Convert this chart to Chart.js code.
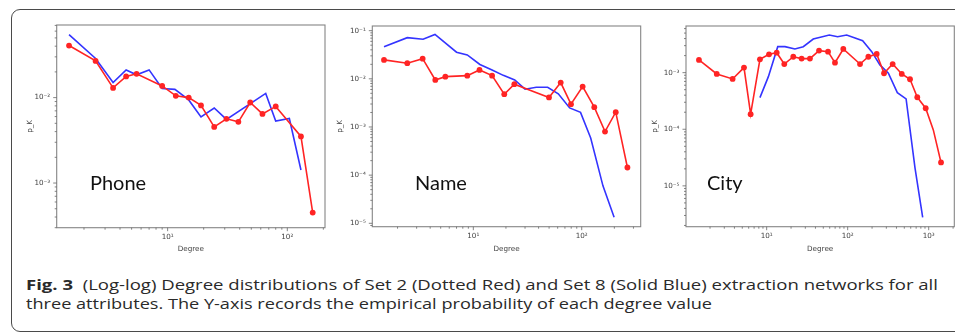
<!DOCTYPE html>
<html>
<head>
<meta charset="utf-8">
<script src="https://cdn.jsdelivr.net/npm/chart.js@4.4.1/dist/chart.umd.min.js"></script>
<style>
  html, body { margin: 0; padding: 0; background: #fff; overflow: hidden; }
  body { width: 955px; height: 332px; position: relative; }
  .frame { position: absolute; left: 11px; top: 9px; width: 962px; height: 323px; border: 1.5px solid #4a4a4a; border-radius: 9px; box-sizing: border-box; }
  canvas { position: absolute; }
  .tag { position: absolute; font-family: Lato, sans-serif; font-size: 20px; line-height: 20px; color: #111; white-space: nowrap; }
  .cap { position: absolute; left: 26px; font-family: "Open Sans", sans-serif; font-size: 14.5px; line-height: 19px; color: #2a2a2a; white-space: nowrap; transform-origin: 0 0; }
  .cap b { font-weight: 700; }
</style>
</head>
<body>
<div class="frame"></div>
<canvas id="phoneChart"></canvas>
<canvas id="nameChart"></canvas>
<canvas id="cityChart"></canvas>
<div class="tag" style="left:90px;top:172px">Phone</div>
<div class="tag" style="left:415px;top:172px">Name</div>
<div class="tag" style="left:707px;top:172px">City</div>
<div class="cap" id="cap1" style="top:275px"><b>Fig. 3</b>&nbsp; (Log-log) Degree distributions of Set 2 (Dotted Red) and Set 8 (Solid Blue) extraction networks for all</div>
<div class="cap" id="cap2" style="top:294px">three attributes. The Y-axis records the empirical probability of each degree value</div>
<script>
// --- data ---
// Phone
const phoneRedDeg = [1.5, 2.5, 3.5, 4.5, 5.5, 9, 11.7, 15, 19, 24.5, 31, 39, 49, 62, 80, 130, 163];
const phoneRedP = [0.0407, 0.0269, 0.0130, 0.0177, 0.0190, 0.0137, 0.0105, 0.0100, 0.0081, 0.00454, 0.00565, 0.00521, 0.00877, 0.00644, 0.00789, 0.00351, 0.000451];
const phoneBlueDeg = [1.5, 2.5, 3.5, 4.5, 5.5, 7, 9, 11.5, 15, 19, 24.5, 31, 66, 80, 104, 130];
const phoneBlueP = [0.0545, 0.0287, 0.0150, 0.0211, 0.0185, 0.0211, 0.0128, 0.0125, 0.0094, 0.00595, 0.00755, 0.00555, 0.0112, 0.00531, 0.00569, 0.00142];

// Name
const nameRedDeg = [1.5, 2.46, 3.41, 4.46, 5.52, 8.8, 11.4, 14.9, 19.3, 23.9, 49.9, 64, 79.6, 102, 130.6, 164, 206, 264];
const nameRedP = [0.0247, 0.0211, 0.0262, 0.00948, 0.0111, 0.01165, 0.0153, 0.01165, 0.00479, 0.00773, 0.00411, 0.00834, 0.00297, 0.00689, 0.00258, 0.000804, 0.00203, 0.000144];
const nameBlueDeg = [1.5, 2.46, 3.44, 4.43, 7.0, 8.8, 11.5, 14.9, 18.9, 24.1, 30, 38.1, 48.5, 60.8, 77.4, 97.5, 121, 157, 199];
const nameBlueP = [0.0466, 0.0716, 0.0664, 0.0834, 0.0358, 0.0313, 0.0199, 0.0153, 0.0118, 0.0095, 0.0061, 0.0067, 0.0067, 0.0049, 0.00249, 0.00201, 0.00059, 0.00006, 0.0000133];

// City
const cityRedDeg = [1.46, 2.42, 3.8, 5.25, 6.34, 8.26, 10.7, 13.3, 16.5, 21.3, 27, 34.2, 44.3, 57.2, 69.7, 88.3, 142, 180, 228, 281, 359, 465, 588, 723, 918, 1140, 1419];
const cityRedP = [0.00168, 0.000948, 0.000774, 0.00123, 0.000185, 0.00172, 0.00211, 0.00225, 0.00142, 0.00191, 0.00177, 0.00177, 0.00245, 0.00235, 0.00150, 0.00262, 0.00142, 0.00191, 0.00214, 0.000976, 0.00142, 0.000948, 0.000765, 0.000368, 0.000235, 0.0000975, 0.0000259];
const cityRedMarked = [1,1,1,1,1,1,1,1,1,1,1,1,1,1,1,1,1,1,1,1,1,1,1,1,1,0,1];
const cityBlueDeg = [8.26, 10.5, 13.7, 16.8, 22.3, 28.3, 37.6, 59.3, 75.1, 97.2, 153, 198, 250, 318, 410, 526, 678, 843];
const cityBlueP = [0.000362, 0.00085, 0.00288, 0.00288, 0.00262, 0.00288, 0.00393, 0.00463, 0.00431, 0.00463, 0.00366, 0.00235, 0.00137, 0.000976, 0.000444, 0.000344, 0.0000206, 0.00000277];

// axis ranges
const phoneX = [1.183, 206.5], phoneY = [0.00034, 0.0708];
const nameX = [1.17, 350], nameY = [0.0000085, 0.125];
const cityX = [1.01, 2070], cityY = [0.0000019, 0.00667];

// --- style ---
const RED = '#ff2424';
const BLUE = '#3434ff';
const AXIS = '#858585';
const TEXT = '#444';
const FONT = 'DejaVu Sans';
const LSIZE = 7.2;
const LH = LSIZE * 1.2;

const SUP = {'-': '⁻', '0': '⁰', '1': '¹', '2': '²', '3': '³', '4': '⁴', '5': '⁵', '6': '⁶', '7': '⁷', '8': '⁸', '9': '⁹'};
function isPow10(v) {
    const e = Math.log10(v);
    return Math.abs(e - Math.round(e)) < 1e-9;
}
function powLabel(v) {
    if (!isPow10(v)) return '';
    return '10' + String(Math.round(Math.log10(v))).split('').map(c => SUP[c]).join('');
}
function logTicks(min, max) {
    const out = [];
    for (let e = Math.floor(Math.log10(min)); e <= Math.ceil(Math.log10(max)); e++) {
        for (let m = 1; m <= 9; m++) {
            const v = Number(m + 'e' + e);
            if (v >= min * 0.9999 && v <= max * 1.0001) out.push({ value: v, major: m === 1 });
        }
    }
    return out;
}
function pairs(xs, ys) {
    return xs.map((x, i) => ({ x: x, y: ys[i] }));
}

// draws the full axes box plus outward major/minor tick marks
const boxTicks = {
    id: 'boxTicks',
    afterDraw(chart) {
        const { ctx, chartArea: a, scales } = chart;
        ctx.save();
        ctx.strokeStyle = AXIS;
        ctx.lineWidth = 1.1;
        ctx.strokeRect(a.left, a.top, a.right - a.left, a.bottom - a.top);
        ctx.strokeStyle = '#666';
        ctx.lineWidth = 0.8;
        ctx.beginPath();
        scales.x.ticks.forEach(t => {
            const px = scales.x.getPixelForValue(t.value);
            const len = isPow10(t.value) ? 3.5 : 2;
            ctx.moveTo(px, a.bottom);
            ctx.lineTo(px, a.bottom + len);
        });
        scales.y.ticks.forEach(t => {
            const py = scales.y.getPixelForValue(t.value);
            const len = isPow10(t.value) ? 3.5 : 2;
            ctx.moveTo(a.left, py);
            ctx.lineTo(a.left - len, py);
        });
        ctx.stroke();
        ctx.restore();
    }
};

function makeChart(id, box, area, yTitleX, xTitleY, xRange, yRange, red, blue, redMarks) {
    const cv = document.getElementById(id);
    cv.width = box.w;
    cv.height = box.h;
    cv.style.left = box.l + 'px';
    cv.style.top = box.t + 'px';

    const yScaleLeft = yTitleX - LH / 2;
    const xScaleBottom = xTitleY + LH / 2;
    const font = { family: FONT, size: LSIZE };

    return new Chart(cv.getContext('2d'), {
        type: 'line',
        data: {
            datasets: [{
                label: 'Set 2',
                data: red,
                borderColor: RED,
                backgroundColor: RED,
                borderWidth: 1.6,
                pointRadius: redMarks ? redMarks.map(m => m ? 2.9 : 0) : 2.9,
                pointBackgroundColor: RED,
                pointBorderWidth: 0,
                tension: 0,
                fill: false
            }, {
                label: 'Set 8',
                data: blue,
                borderColor: BLUE,
                borderWidth: 1.6,
                pointRadius: 0,
                tension: 0,
                fill: false
            }]
        },
        options: {
            responsive: false,
            animation: false,
            devicePixelRatio: 1,
            events: [],
            layout: {
                padding: {
                    left: yScaleLeft - box.l,
                    top: area[1] - box.t,
                    right: box.l + box.w - area[2],
                    bottom: box.t + box.h - xScaleBottom
                }
            },
            plugins: { legend: { display: false }, tooltip: { enabled: false } },
            scales: {
                x: {
                    type: 'logarithmic',
                    min: xRange[0],
                    max: xRange[1],
                    afterBuildTicks: s => { s.ticks = logTicks(s.min, s.max); },
                    afterFit: s => { s.height = xScaleBottom - area[3]; },
                    grid: { display: false, drawTicks: false },
                    border: { display: false },
                    ticks: { autoSkip: false, maxRotation: 0, padding: 5, font: font, color: TEXT, callback: v => powLabel(v) },
                    title: { display: true, text: 'Degree', font: font, color: TEXT, padding: 0 }
                },
                y: {
                    type: 'logarithmic',
                    min: yRange[0],
                    max: yRange[1],
                    afterBuildTicks: s => { s.ticks = logTicks(s.min, s.max); },
                    afterFit: s => { s.width = area[0] - yScaleLeft; },
                    grid: { display: false, drawTicks: false },
                    border: { display: false },
                    ticks: { autoSkip: false, padding: 6.5, font: font, color: TEXT, callback: v => powLabel(v) },
                    title: { display: true, text: 'p_K', font: font, color: TEXT, padding: 0 }
                }
            }
        },
        plugins: [boxTicks]
    });
}

makeChart('phoneChart', { l: 14, t: 12, w: 320, h: 250 }, [56.7, 25, 325, 227.7], 30, 249,
    phoneX, phoneY, pairs(phoneRedDeg, phoneRedP), pairs(phoneBlueDeg, phoneBlueP));
makeChart('nameChart', { l: 334, t: 12, w: 318, h: 250 }, [372.3, 26, 640.7, 226.7], 340, 249,
    nameX, nameY, pairs(nameRedDeg, nameRedP), pairs(nameBlueDeg, nameBlueP));
makeChart('cityChart', { l: 646, t: 12, w: 320, h: 250 }, [686, 26, 954.3, 226.7], 655, 249,
    cityX, cityY, pairs(cityRedDeg, cityRedP), pairs(cityBlueDeg, cityBlueP), cityRedMarked);

// squeeze each caption line to the width of the printed line
const cap1 = document.getElementById('cap1');
const cap2 = document.getElementById('cap2');
const k1 = (938 - 26) / cap1.getBoundingClientRect().width;
const k2 = (712 - 26) / cap2.getBoundingClientRect().width;
cap1.style.transform = 'scaleX(' + k1 + ')';
cap2.style.transform = 'scaleX(' + k2 + ')';
</script>
</body>
</html>
